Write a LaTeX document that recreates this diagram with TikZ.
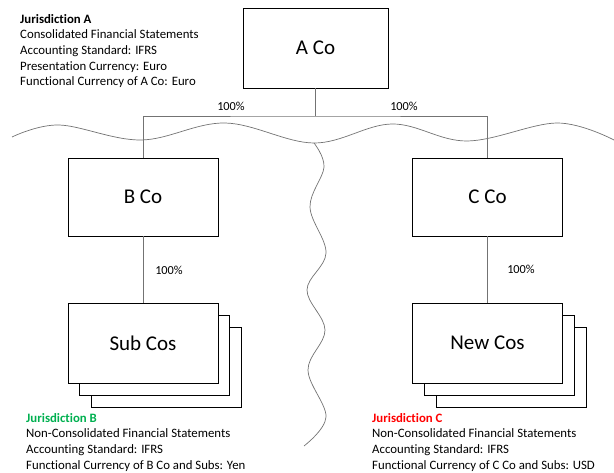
\documentclass[tikz,border=0pt]{standalone}
\usepackage{fontspec}
\setmainfont[Ligatures=NoCommon]{Carlito}
\definecolor{jgreen}{RGB}{0,176,80}
\definecolor{jred}{RGB}{255,0,0}
\definecolor{linegray}{RGB}{115,115,115}
\tikzset{
  cobox/.style={draw=black, line width=0.9pt, fill=white, inner sep=0pt, font=\fontsize{21}{24}\selectfont},
  conn/.style={draw=linegray, line width=0.7pt},
  wave/.style={draw=linegray, line width=0.7pt},
  pct/.style={font=\fontsize{12.3}{14}\selectfont, inner sep=0pt},
  info/.style={anchor=north west, align=left, inner sep=0pt, font=\fontsize{12.8}{15.7}\selectfont},
}
\begin{document}
\begin{tikzpicture}[x=1pt,y=-1pt]
\useasboundingbox (0,0) rectangle (614,473);
% boxes
\node[cobox, minimum width=145, minimum height=80] (aco) at (315.5,48) {A Co};
\node[cobox, minimum width=150, minimum height=78] (bco) at (143,197) {B Co};
\node[cobox, minimum width=150, minimum height=78] (cco) at (487.5,197) {C Co};
% stacked boxes B
\node[cobox, minimum width=150, minimum height=80] (subb3) at (166,367) {};
\node[cobox, minimum width=150, minimum height=80] (subb2) at (154.5,355) {};
\node[cobox, minimum width=150, minimum height=80] (subb) at (143,343) {Sub Cos};
% stacked boxes C
\node[cobox, minimum width=150, minimum height=80] (newc3) at (511,367) {};
\node[cobox, minimum width=150, minimum height=80] (newc2) at (499.5,355) {};
\node[cobox, minimum width=150, minimum height=80] (newc) at (487.5,343) {New Cos};
% connectors
\coordinate (j) at (315.5,116);
\draw[conn] (aco.south) -- (j);
\draw[conn] (bco.north) |- (j) -| (cco.north);
\draw[conn] (bco.south) -- (subb.north);
\draw[conn] (cco.south) -- (newc.north);
% percentages
\node[pct] (p1) at (231,106) {100\%};
\node[pct] (p2) at (404,106) {100\%};
\node[pct] (p3) at (169,270) {100\%};
\node[pct] (p4) at (521,269) {100\%};
% wavy lines
\draw[wave] plot[smooth, tension=0.6] coordinates {(12,137) (59,125) (141,140) (225,123) (314,143) (392,124) (467,141) (557,123) (614,140)};
\draw[wave] plot[smooth, tension=0.6] coordinates {(314,143) (324,167) (310,207) (326,253) (307,290) (325,330) (308,370) (326,417) (304,446)};
% text blocks
\node[info] (ja) at (20,14) {\textbf{Jurisdiction A}\\Consolidated Financial Statements\\Accounting Standard: IFRS\\Presentation Currency: Euro\\Functional Currency of A Co: Euro};
\node[info] (jb) at (26,413) {\textcolor{jgreen}{\textbf{Jurisdiction B}}\\Non-Consolidated Financial Statements\\Accounting Standard: IFRS\\Functional Currency of B Co and Subs: Yen};
\node[info] (jc) at (372,413) {\textcolor{jred}{\textbf{Jurisdiction C}}\\Non-Consolidated Financial Statements\\Accounting Standard: IFRS\\Functional Currency of C Co and Subs: USD};
\end{tikzpicture}
\end{document}
